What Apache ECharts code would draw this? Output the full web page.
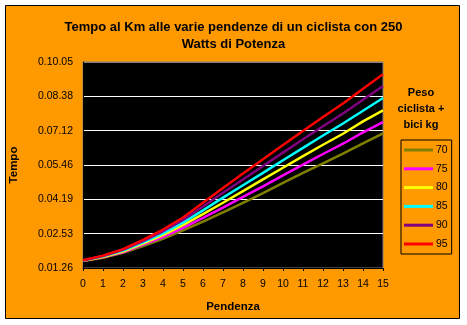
<!DOCTYPE html>
<html>
<head>
<meta charset="utf-8">
<script src="https://cdn.jsdelivr.net/npm/echarts@6/dist/echarts.min.js"></script>
<style>
html,body{margin:0;padding:0;background:#fff;}
#c{width:467px;height:325px;}
</style>
</head>
<body>
<div id="c"></div>
<script>
// Pendenza (%)
var slopes = [0,1,2,3,4,5,6,7,8,9,10,11,12,13,14,15];
// Tempo al Km, in units of 0.001 day (86.4 s)
var w70 = [1.20,1.30,1.44,1.64,1.85,2.10,2.35,2.62,2.90,3.18,3.48,3.77,4.05,4.33,4.63,4.92];
var w75 = [1.21,1.31,1.46,1.68,1.90,2.17,2.46,2.76,3.07,3.38,3.70,4.01,4.32,4.62,4.95,5.25];
var w80 = [1.21,1.32,1.48,1.71,1.96,2.25,2.57,2.90,3.24,3.58,3.92,4.26,4.59,4.91,5.27,5.59];
var w85 = [1.22,1.34,1.51,1.75,2.01,2.32,2.68,3.05,3.41,3.77,4.14,4.50,4.86,5.21,5.58,5.95];
var w90 = [1.22,1.35,1.53,1.78,2.07,2.40,2.79,3.19,3.58,3.97,4.36,4.75,5.13,5.50,5.90,6.30];
var w95 = [1.23,1.36,1.55,1.82,2.12,2.47,2.90,3.33,3.75,4.17,4.58,4.99,5.40,5.79,6.22,6.64];
var seriesNames = ['70','75','80','85','90','95'];
var seriesData = [w70,w75,w80,w85,w90,w95];
var seriesColors = ['#808000','#FF00FF','#FFFF00','#00FFFF','#800080','#FF0000'];
var yTickLabels = ['0.01.26','0.02.53','0.04.19','0.05.46','0.07.12','0.08.38','0.10.05'];
var xTickLabels = ['0','1','2','3','4','5','6','7','8','9','10','11','12','13','14','15'];

var font = 'Liberation Sans, Arial, sans-serif';
var chart = echarts.init(document.getElementById('c'), null, {renderer:'canvas'});

var series = seriesData.map(function(arr, i){
  return {
    name: seriesNames[i],
    type: 'line',
    data: arr.map(function(v, j){ return [slopes[j], v]; }),
    symbol: 'none',
    lineStyle: {color: seriesColors[i], width: 2.5},
    itemStyle: {color: seriesColors[i]},
    animation: false
  };
});

chart.setOption({
  animation: false,
  backgroundColor: 'transparent',
  graphic: [
    {type:'rect', z:-10, shape:{x:5.5, y:5.5, width:454, height:313},
     style:{fill:'#FF9900', stroke:'#000', lineWidth:1}},
    {type:'text', z:10, style:{text:'Peso\nciclista +\nbici kg', x:421, y:85, textAlign:'center', textVerticalAlign:'top',
      font:'bold 11px ' + font, lineHeight:16, fill:'#000'}}
  ],
  title: {
    text: 'Tempo al Km alle varie pendenze di un ciclista con 250\nWatts di Potenza',
    left: 'center', top: 14,
    textStyle: {fontFamily: font, fontSize: 13, fontWeight: 'bold', color: '#000', lineHeight: 17}
  },
  legend: {
    orient: 'vertical',
    left: 401, top: 140,
    padding: [4,4,4,3],
    itemGap: 6.8,
    itemWidth: 29, itemHeight: 3,
    icon: 'rect',
    borderColor: '#000', borderWidth: 1,
    textStyle: {fontFamily: font, fontSize: 10.5, color: '#000', lineHeight: 12, padding:[0,0,0,-2]},
    data: seriesNames
  },
  grid: {
    left: 83, top: 62, width: 300, height: 206,
    show: true, backgroundColor: '#000', borderColor: '#808080', borderWidth: 1
  },
  xAxis: {
    type: 'value', min: 0, max: 15, interval: 1,
    name: 'Pendenza', nameLocation: 'middle', nameGap: 33,
    nameTextStyle: {fontFamily: font, fontSize: 11.5, fontWeight: 'bold', color: '#000'},
    axisLine: {show: true, lineStyle: {color: '#000', width: 1}},
    axisTick: {show: true, length: 3, lineStyle: {color: '#000'}},
    axisLabel: {fontFamily: font, fontSize: 10.5, color: '#000', margin: 11,
      formatter: function(v){ return xTickLabels[Math.round(v)]; }},
    splitLine: {show: false}
  },
  yAxis: {
    type: 'value', min: 1, max: 7, interval: 1,
    name: 'Tempo', nameLocation: 'middle', nameGap: 63, nameRotate: 90,
    nameTextStyle: {fontFamily: font, fontSize: 11.5, fontWeight: 'bold', color: '#000'},
    axisLine: {show: true, lineStyle: {color: '#000'}},
    axisTick: {show: false},
    axisLabel: {fontFamily: font, fontSize: 10.5, color: '#000', margin: 10,
      formatter: function(v){ return yTickLabels[Math.round(v) - 1]; }},
    splitLine: {show: true, lineStyle: {color: ['#000','#fff','#fff','#fff','#fff','#fff','#808080'], width: 1}}
  },
  series: series
});
</script>
</body>
</html>
